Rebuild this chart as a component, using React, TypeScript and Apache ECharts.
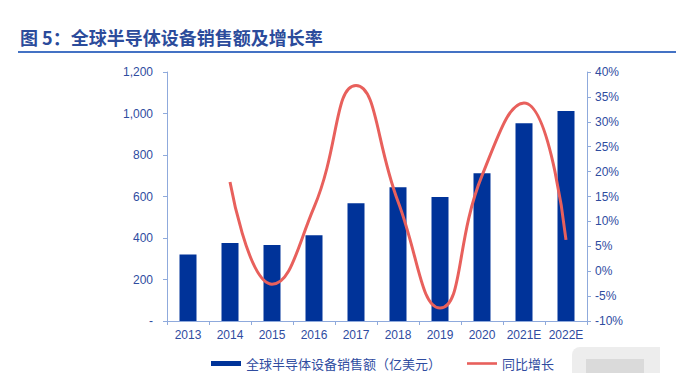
import React, { useEffect, useRef } from "react";
import * as echarts from "echarts";

const categories = ["2013", "2014", "2015", "2016", "2017", "2018", "2019", "2020", "2021E", "2022E"];
const salesValues = [320, 376, 366, 413, 567, 645, 598, 712, 953, 1012];
const growthValues: (number | null)[] = [null, 17.9, -2.6, 12.8, 37.3, 14.0, -7.4, 19.2, 33.8, 6.3];
const titleText = "图 5：全球半导体设备销售额及增长率";
const barName = "全球半导体设备销售额（亿美元）";
const lineName = "同比增长";

const labelColor = "#2F4C9F";
const axisColor = "#8FAADC";

export default function App() {
  const ref = useRef<HTMLDivElement>(null);
  useEffect(() => {
    if (!ref.current) return;
    const chart = echarts.init(ref.current, null, { renderer: "svg" });
    chart.setOption({
      animation: false,
      backgroundColor: "#ffffff",
      textStyle: { fontFamily: "Liberation Sans, Noto Sans CJK SC, sans-serif" },
      title: {
        text: titleText,
        left: 15,
        top: 23,
        textStyle: {
          color: "#2B4B9B",
          fontSize: 18,
          fontWeight: "bold",
          fontFamily: "Noto Sans CJK SC, sans-serif",
        },
      },
      graphic: [
        {
          type: "line",
          shape: { x1: 18, y1: 52, x2: 676, y2: 52 },
          style: { stroke: "#4472C4", lineWidth: 2 },
        },
        { type: "rect", shape: { x: 572, y: 347, width: 88, height: 26, r: [8, 0, 0, 0] }, style: { fill: "#EDEDED" } },
        { type: "rect", shape: { x: 586, y: 359, width: 58, height: 14 }, style: { fill: "#DADADA" } },
      ],
      grid: { left: 167, right: 89, top: 72, bottom: 58, containLabel: false },
      legend: {
        bottom: 4,
        left: 206,
        itemGap: 26,
        itemWidth: 30,
        itemHeight: 5,
        textStyle: { color: labelColor, fontSize: 13, fontFamily: "Noto Sans CJK SC, sans-serif" },
        data: [
          { name: barName, icon: "rect" },
          { name: lineName, icon: "path://M0 0H30V2.6H0Z" },
        ],
      },
      xAxis: {
        type: "category",
        data: categories,
        boundaryGap: true,
        axisLine: { lineStyle: { color: axisColor, width: 1 } },
        axisTick: { show: true, interval: 0, length: 4, lineStyle: { color: axisColor } },
        axisLabel: { color: labelColor, fontSize: 12, interval: 0, margin: 8 },
      },
      yAxis: [
        {
          type: "value",
          min: 0,
          max: 1200,
          interval: 200,
          splitLine: { show: false },
          axisLine: { show: true, lineStyle: { color: axisColor } },
          axisTick: { show: true, length: 4, lineStyle: { color: axisColor } },
          axisLabel: {
            color: labelColor,
            fontSize: 12,
            margin: 14,
            formatter: (v: number) => (v === 0 ? "-" : v.toLocaleString("en-US")),
          },
        },
        {
          type: "value",
          min: -10,
          max: 40,
          interval: 5,
          splitLine: { show: false },
          axisLine: { show: true, lineStyle: { color: axisColor } },
          axisTick: { show: true, length: 4, lineStyle: { color: axisColor } },
          axisLabel: {
            color: labelColor,
            fontSize: 12,
            margin: 8,
            formatter: (v: number) => `${v}%`,
          },
        },
      ],
      series: [
        {
          name: barName,
          type: "bar",
          data: salesValues,
          barWidth: 17,
          itemStyle: { color: "#003399" },
          yAxisIndex: 0,
        },
        {
          name: lineName,
          type: "line",
          yAxisIndex: 1,
          data: growthValues,
          smooth: 0.5,
          symbol: "none",
          showSymbol: false,
          lineStyle: { color: "#E8605C", width: 3 },
          itemStyle: { color: "#E8605C" },
        },
      ],
    });
    return () => chart.dispose();
  }, []);
  return (
    <div
      ref={ref}
      style={{ position: "fixed", left: 0, top: 0, width: 676, height: 379 }}
    />
  );
}
